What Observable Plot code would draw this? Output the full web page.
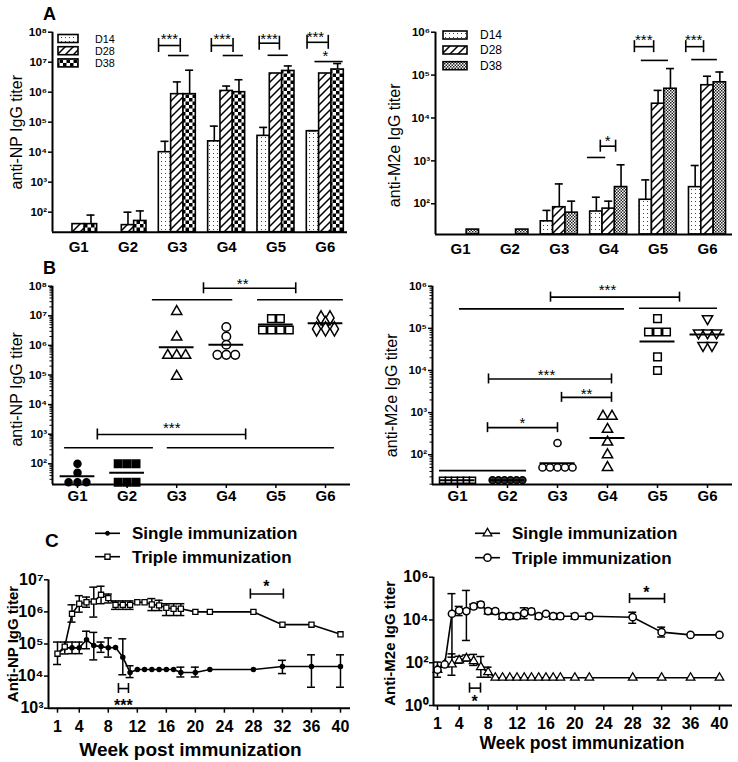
<!DOCTYPE html>
<html>
<head>
<meta charset="utf-8">
<script src="https://cdn.jsdelivr.net/npm/d3@7"></script>
<script src="https://cdn.jsdelivr.net/npm/@observablehq/plot@0.6"></script>
<style>
html,body{margin:0;padding:0;background:#fff;}
#fig{position:relative;width:738px;height:762px;overflow:hidden;background:#fff;}
#fig > svg{position:absolute;}
</style>
</head>
<body>
<div id="fig"></div>
<script>
// ================= DATA =================
const groups = ["G1", "G2", "G3", "G4", "G5", "G6"];
const days = ["D14", "D28", "D38"];

// Panel A (left): anti-NP titer, bar = mean, Up = top of SD bar
const npD14 = [null, null, 1.0e4, 2.3e4, 3.5e4, 5.0e4];
const npD14Up = [null, null, 2.3e4, 7.4e4, 6.7e4, 5.2e4];
const npD28 = [40, 37, 8.6e5, 1.1e6, 4.2e6, 4.2e6];
const npD28Up = [null, 100, 2.2e6, 1.6e6, null, null];
const npD38 = [40, 51, 8.6e5, 1.0e6, 5.1e6, 5.7e6];
const npD38Up = [80, 110, 5.4e6, 2.6e6, 7.5e6, 9.0e6];

// Panel A (right): anti-M2e titer
const m2eD14 = [null, null, 39, 66, 124, 244];
const m2eD14Up = [null, null, 70, 142, 360, 780];
const m2eD28 = [null, null, 83, 77, 2.15e4, 5.8e4];
const m2eD28Up = [null, null, 290, 115, 4.4e4, 9.4e4];
const m2eD38 = [25, 25, 62, 245, 4.8e4, 6.8e4];
const m2eD38Up = [null, null, 115, 810, 1.42e5, 1.18e5];

// Panel B: individual mice (D38) and group means
const npPoints = [
  [100, 50, 24, 24, 24],
  [100, 100, 100, 24, 24, 24],
  [1.4e7, 1.9e6, 4.6e5, 4.6e5, 4.6e5, 9.1e4],
  [4.2e6, 2.0e6, 1.05e6, 4.8e5, 4.8e5, 4.8e5],
  [8.0e6, 8.0e6, 3.3e6, 3.3e6, 3.3e6, 3.3e6],
  [8.5e6, 8.5e6, 5.5e6, 3.6e6, 3.6e6, 3.6e6]
];
const npMeans = [38, 50, 8.7e5, 1.05e6, 5.1e6, 5.6e6];
const m2ePoints = [
  [25, 25, 25, 25, 25, 25],
  [25, 25, 25, 25, 25, 25],
  [190, 50, 50, 50, 50, 50],
  [820, 820, 400, 200, 100, 50],
  [1.7e5, 8.2e4, 8.2e4, 8.2e4, 2.1e4, 1.0e4],
  [1.7e5, 7.8e4, 7.8e4, 7.8e4, 3.9e4, 3.9e4]
];
const m2eMeans = [25, 25, 63, 250, 4.9e4, 7.1e4];

// Panel C: kinetics
const weeks = [1, 2, 3, 4, 5, 6, 7, 8, 9, 10, 11, 12, 13, 14, 15, 16, 17, 18, 20, 22, 28, 32, 36, 40];
const weekTicks = [1, 4, 8, 12, 16, 20, 24, 28, 32, 36, 40];
const npSingle   = [5e4, 7.6e4, 7.6e4, 7.6e4, 1.35e5, 8.9e4, 8.3e4, 7.6e4, 7.8e4, 3.9e4, 1.3e4, 1.6e4, 1.6e4, 1.6e4, 1.6e4, 1.6e4, 1.6e4, 1.3e4, 1.3e4, 1.6e4, 1.6e4, 2e4, 2e4, 2e4];
const npSingleLo = [null, 4.9e4, 5e4, 5e4, 7.1e4, 3.2e4, 5.5e4, 3.9e4, null, 1.1e4, 9e3, null, null, null, null, null, null, 9.4e3, 9.4e3, null, null, 1.2e4, 4.5e3, 4.5e3];
const npSingleHi = [null, 1.15e5, 1.15e5, 1.15e5, 2.5e5, 2.3e5, 1.15e5, 1.55e5, null, 1.45e5, 2.1e4, null, null, null, null, null, null, 1.9e4, 1.9e4, null, null, 3.1e4, 4.6e4, 4.6e4];
const npTriple   = [5e4, 8.3e4, 8.7e5, 1.8e6, 2e6, 2.1e6, 3.4e6, 2.7e6, 1.66e6, 1.66e6, 1.66e6, 2e6, 2e6, 1.7e6, 1.6e6, 1.35e6, 1.25e6, 1.25e6, 1e6, 1e6, 1e6, 4e5, 4e5, 2e5];
const npTripleLo = [2.3e4, null, 4.8e5, 9.8e5, 1.4e6, 6.9e5, 1.8e6, 1.9e6, 1.2e6, 1.2e6, 1.2e6, null, null, 1.1e6, 1.1e6, 7.7e5, 7.7e5, 7.7e5, null, null, null, null, null, null];
const npTripleHi = [1.15e5, null, 1.66e6, 3.2e6, 2.9e6, 5.9e6, 6.3e6, 3.6e6, 2.2e6, 2.2e6, 2.2e6, null, null, 2.6e6, 2.3e6, 1.8e6, 1.8e6, 1.8e6, null, null, null, null, null, null];
const m2eSingle   = [47, 83, 83, 130, 160, 120, 62, 36, 20, 20, 20, 20, 20, 20, 20, 20, 20, 20, 20, 20, 20, 20, 20, 20];
const m2eSingleLo = [null, null, 26, 95, 120, 75, 21, 21, null, null, null, null, null, null, null, null, null, null, null, null, null, null, null, null];
const m2eSingleHi = [null, null, 260, 200, 230, 245, 195, 62, null, null, null, null, null, null, null, null, null, null, null, null, null, null, null, null];
const m2eTriple   = [47, 83, 1.95e4, 2.8e4, 2.6e4, 4.3e4, 5.3e4, 2.6e4, 2.6e4, 1.5e4, 1.5e4, 1.5e4, 2.1e4, 2.5e4, 1.5e4, 1.95e4, 1.5e4, 1.5e4, 1.5e4, 1.5e4, 1.35e4, 2.7e3, 2e3, 2e3];
const m2eTripleLo = [21, null, 182, 1.6e4, 1.1e3, 3.3e4, 3.8e4, 1.9e4, 1.9e4, 1.1e4, 1.1e4, 1.1e4, 1.15e4, 1.8e4, 1.1e4, null, 1.1e4, 1.1e4, 1.1e4, 1.1e4, 7e3, 1.6e3, null, null];
const m2eTripleHi = [107, null, 1.7e5, 4.3e4, 2.4e5, 5.5e4, 7e4, 3.3e4, 3.3e4, 2e4, 2e4, 2e4, 3.7e4, 3.4e4, 2e4, null, 2e4, 2e4, 2e4, 2e4, 2.3e4, 4.6e3, null, null];

// Significance annotations (x in group/week units, y in titer units)
const sigA1 = {
  brackets: [{x1: 2.62, x2: 3.06, y: 3.6e7}, {x1: 3.69, x2: 4.13, y: 3.6e7}, {x1: 4.66, x2: 5.07, y: 4.3e7}, {x1: 5.63, x2: 6.06, y: 4.6e7}],
  lines: [{x1: 2.82, x2: 3.24, y: 1.67e7}, {x1: 3.93, x2: 4.34, y: 1.67e7}, {x1: 4.84, x2: 5.25, y: 1.7e7}, {x1: 5.79, x2: 6.36, y: 1.05e7}],
  labels: [{x: 2.84, y: 5.7e7, t: "***"}, {x: 3.91, y: 5.7e7, t: "***"}, {x: 4.86, y: 5.7e7, t: "***"}, {x: 5.80, y: 6.7e7, t: "***"}, {x: 6.0, y: 1.55e7, t: "*"}]
};
const sigA2 = {
  brackets: [{x1: 3.83, x2: 4.14, y: 2.2e3}, {x1: 4.52, x2: 4.91, y: 4.6e5}, {x1: 5.56, x2: 5.92, y: 4.6e5}],
  lines: [{x1: 3.57, x2: 3.94, y: 1.2e3}, {x1: 4.66, x2: 5.21, y: 2.2e5}, {x1: 5.68, x2: 6.2, y: 2.3e5}],
  labels: [{x: 3.98, y: 2.9e3, t: "*"}, {x: 4.71, y: 6.5e5, t: "***"}, {x: 5.72, y: 6.5e5, t: "***"}]
};
const sigB1 = {
  brackets: [{x1: 3.54, x2: 5.40, y: 8.5e7}, {x1: 1.40, x2: 4.39, y: 9.8e2}],
  lines: [{x1: 2.51, x2: 4.13, y: 3.5e7}, {x1: 4.63, x2: 6.36, y: 3.5e7}, {x1: 0.74, x2: 2.53, y: 3.47e2}, {x1: 2.81, x2: 6.18, y: 3.47e2}],
  labels: [{x: 4.33, y: 1.15e8, t: "**"}, {x: 2.9, y: 1.55e3, t: "***"}]
};
const sigB2 = {
  brackets: [{x1: 2.86, x2: 5.44, y: 5.5e5}, {x1: 1.62, x2: 4.08, y: 6.3e3}, {x1: 3.08, x2: 4.08, y: 2.3e3}, {x1: 1.6, x2: 3.0, y: 4.4e2}],
  lines: [{x1: 1.04, x2: 4.34, y: 2.9e5}, {x1: 4.64, x2: 6.2, y: 3e5}, {x1: 0.64, x2: 2.38, y: 42}],
  labels: [{x: 4.0, y: 7.9e5, t: "***"}, {x: 2.78, y: 7.6e3, t: "***"}, {x: 3.58, y: 2.8e3, t: "**"}, {x: 2.3, y: 5.5e2, t: "*"}]
};
const sigC1 = {
  brackets: [{x1: 9.4, x2: 10.78, y: 4.1e3}, {x1: 27.58, x2: 32.13, y: 3.6e6}],
  lines: [],
  labels: [{x: 10.09, y: 1.2e3, t: "***"}, {x: 29.79, y: 6.2e6, t: "*"}]
};
const sigC2 = {
  brackets: [{x1: 5.43, x2: 6.95, y: 6.5}, {x1: 27.56, x2: 32.4, y: 1e5}],
  lines: [],
  labels: [{x: 6.12, y: 1.55, t: "*"}, {x: 29.9, y: 1.9e5, t: "*"}]
};

// ================= HELPERS =================
const FONT = "'Liberation Sans', Arial, Helvetica, sans-serif";
const fig = document.getElementById("fig");
const SUP = {"0": "⁰", "1": "¹", "2": "²", "3": "³", "4": "⁴", "5": "⁵", "6": "⁶", "7": "⁷", "8": "⁸", "9": "⁹", "-": "⁻"};
const pow10 = d => "10" + String(Math.round(Math.log10(d))).split("").map(c => SUP[c]).join("");
const minorTicks = (lo, hi) => { const t = []; for (let e = Math.floor(Math.log10(lo)); e < Math.log10(hi); e++) for (let m = 2; m <= 9; m++) { const v = m * 10 ** e; if (v > lo && v < hi) t.push(v); } return t; };

function sigMarks(s, h, fontSize, fontWeight) {
  return [
    Plot.ruleY(s.brackets, {y: "y", x1: "x1", x2: "x2", strokeWidth: 1.6}),
    Plot.ruleX(s.brackets, {x: "x1", y1: "y", y2: "y", insetTop: -h, insetBottom: -h, strokeWidth: 1.6}),
    Plot.ruleX(s.brackets, {x: "x2", y1: "y", y2: "y", insetTop: -h, insetBottom: -h, strokeWidth: 1.6}),
    Plot.ruleY(s.lines, {y: "y", x1: "x1", x2: "x2", strokeWidth: 1.6}),
    Plot.text(s.labels, {x: "x", y: "y", text: "t", fontSize, fontWeight, lineAnchor: "middle"})
  ];
}

function panel(o) {
  const [mt, mr, mb, ml] = o.margin;
  const marks = [...o.marks];
  if (o.minor) marks.push(Plot.axisY({ticks: o.minor, tickSize: 2.5, tickFormat: () => "", strokeWidth: 1, label: null}));
  marks.push(
    Plot.axisY({ticks: o.yTicks, tickFormat: pow10, tickSize: 4, tickPadding: o.yPad, fontSize: o.yFont, fontWeight: "bold", strokeWidth: 1.5, label: null}),
    Plot.axisX({ticks: o.xTicks, tickFormat: o.xFormat, tickSize: o.xTickSize, tickPadding: o.xPad, fontSize: o.xFont, fontWeight: "bold", strokeWidth: 1.5, label: null}),
    Plot.ruleX([o.xDomain[0]], {y1: o.yDomain[0], y2: o.yDomain[1], strokeWidth: 2}),
    Plot.ruleY([o.yDomain[0]], {strokeWidth: 2}),
    Plot.text([o.title], {text: d => d, frameAnchor: "left", textAnchor: "middle", lineAnchor: "middle", rotate: -90, dx: o.titleDx, dy: o.titleDy, fontSize: o.titleFont, fontWeight: o.titleWeight})
  );
  if (o.xTitle) marks.push(Plot.text([o.xTitle], {text: d => d, frameAnchor: "bottom", textAnchor: "middle", lineAnchor: "top", dx: o.xTitleDx, dy: o.xTitleDy, fontSize: o.xTitleFont, fontWeight: "bold"}));
  const svg = Plot.plot({
    width: o.width, height: o.height,
    marginTop: mt, marginRight: mr, marginBottom: mb, marginLeft: ml,
    x: {type: "linear", domain: o.xDomain},
    y: {type: "log", domain: o.yDomain},
    style: {fontFamily: FONT, color: "black", background: "transparent", overflow: "visible"},
    marks
  });
  svg.style.left = o.left + "px";
  svg.style.top = o.top + "px";
  fig.appendChild(svg);
}

// ---- Panel A: grouped bars ----
const BW = 0.25;
function barMarks(series, ups, pats, yMin) {
  const rows = [];
  series.forEach((vals, k) => vals.forEach((v, i) => { if (v != null) rows.push({g: i + 1, k, v, up: ups[k][i]}); }));
  const xc = d => d.g + (d.k - 1) * BW;
  const err = rows.filter(d => d.up != null);
  return [
    ...pats.map((p, k) => Plot.rect(rows.filter(d => d.k === k), {x1: d => xc(d) - BW / 2, x2: d => xc(d) + BW / 2, y1: yMin, y2: "v", fill: p, stroke: "black", strokeWidth: 1.6})),
    Plot.ruleX(err, {x: xc, y1: "v", y2: "up", strokeWidth: 1.6}),
    Plot.ruleY(err, {y: "up", x1: xc, x2: xc, insetLeft: -4, insetRight: -4, strokeWidth: 1.6})
  ];
}

// ---- Panel B: scatter with means ----
const triangleDown = {draw(ctx, size) { const y = -Math.sqrt(size / (Math.sqrt(3) * 3)); ctx.moveTo(0, -y * 2); ctx.lineTo(-Math.sqrt(3) * y, y); ctx.lineTo(Math.sqrt(3) * y, y); ctx.closePath(); }};
function swarm(points) {
  const out = [];
  points.forEach((vals, gi) => {
    const counts = d3.rollup(vals, v => v.length, v => v);
    const seen = new Map();
    vals.forEach(v => {
      const n = counts.get(v), j = seen.get(v) || 0;
      seen.set(v, j + 1);
      const step = n > 1 ? Math.min(0.18, 0.6 / (n - 1)) : 0;
      out.push({g: gi + 1, v, off: (j - (n - 1) / 2) * step});
    });
  });
  return out;
}
function scatterMarks(points, means, styles) {
  const pts = swarm(points);
  const mrows = means.map((v, i) => ({g: i + 1, v}));
  return [
    ...styles.map((s, i) => Plot.dot(pts.filter(d => d.g === i + 1), {x: d => d.g + d.off, y: "v", symbol: s.symbol, r: s.r, fill: s.fill, stroke: "black", strokeWidth: 1.5})),
    Plot.ruleY(mrows, {y: "v", x1: d => d.g - 0.35, x2: d => d.g + 0.35, strokeWidth: 2})
  ];
}

// ---- Panel C: kinetics ----
function kinMarks(vals, lo, hi, dotOpts) {
  const rows = weeks.map((w, i) => ({w, v: vals[i], lo: lo[i], hi: hi[i]}));
  const e = rows.filter(d => d.lo != null);
  return [
    Plot.ruleX(e, {x: "w", y1: "lo", y2: "hi", strokeWidth: 1.5}),
    Plot.ruleY(e, {y: "hi", x1: "w", x2: "w", insetLeft: -4, insetRight: -4, strokeWidth: 1.5}),
    Plot.ruleY(e, {y: "lo", x1: "w", x2: "w", insetLeft: -4, insetRight: -4, strokeWidth: 1.5}),
    Plot.line(rows, {x: "w", y: "v", strokeWidth: 1.6}),
    Plot.dot(rows, {x: "w", y: "v", stroke: "black", ...dotOpts})
  ];
}

// ================= PANELS =================
const gFormat = i => groups[i - 1];

// A left
panel({
  left: 0, top: 0, width: 369, height: 258, margin: [31.7, 22, 26.3, 52],
  xDomain: [0.47, 6.45], yDomain: [21.5, 1e8],
  yTicks: [1e2, 1e3, 1e4, 1e5, 1e6, 1e7, 1e8], yFont: 11.5, yPad: 1.5,
  xTicks: [1, 2, 3, 4, 5, 6], xFormat: gFormat, xTickSize: 0, xPad: 9, xFont: 15,
  title: "anti-NP IgG titer", titleFont: 16, titleDx: -36, titleDy: 0, titleWeight: "normal",
  marks: [
    ...barMarks([npD14, npD28, npD38], [npD14Up, npD28Up, npD38Up], ["url(#pD14)", "url(#pD28)", "url(#pD38a)"], 21.5),
    ...sigMarks(sigA1, 7, 15, "normal")
  ]
});

// A right
panel({
  left: 370, top: 0, width: 368, height: 258, margin: [31.7, 6, 24, 65],
  xDomain: [0.494, 6.506], yDomain: [19.2, 1e6],
  yTicks: [1e2, 1e3, 1e4, 1e5, 1e6], yFont: 11.5, yPad: 1.5,
  xTicks: [1, 2, 3, 4, 5, 6], xFormat: gFormat, xTickSize: 0, xPad: 9, xFont: 15,
  title: "anti-M2e IgG titer", titleFont: 16, titleDx: -41, titleDy: 12, titleWeight: "normal",
  marks: [
    ...barMarks([m2eD14, m2eD28, m2eD38], [m2eD14Up, m2eD28Up, m2eD38Up], ["url(#pD14)", "url(#pD28)", "url(#pD38b)"], 19.2),
    ...sigMarks(sigA2, 6, 15, "normal")
  ]
});

// B left
panel({
  left: 0, top: 258, width: 369, height: 250, margin: [27.7, 19, 24, 52],
  xDomain: [0.496, 6.504], yDomain: [20, 1e8],
  yTicks: [1e2, 1e3, 1e4, 1e5, 1e6, 1e7, 1e8], minor: minorTicks(20, 1e8), yFont: 11.5, yPad: 1.5,
  xTicks: [1, 2, 3, 4, 5, 6], xFormat: gFormat, xTickSize: 4, xPad: 2, xFont: 15,
  title: "anti-NP IgG titer", titleFont: 16, titleDx: -36, titleDy: 4, titleWeight: "normal",
  marks: [
    ...scatterMarks(npPoints, npMeans, [
      {symbol: "circle", r: 3.5, fill: "black"},
      {symbol: "square", r: 4.2, fill: "black"},
      {symbol: "triangle", r: 3.8, fill: "white"},
      {symbol: "circle", r: 4.3, fill: "white"},
      {symbol: "square", r: 4.3, fill: "white"},
      {symbol: "diamond", r: 4.3, fill: "white"}
    ]),
    ...sigMarks(sigB1, 5.5, 15, "normal")
  ]
});

// B right
panel({
  left: 370, top: 258, width: 368, height: 250, margin: [27.7, 6, 24, 62],
  xDomain: [0.5, 6.5], yDomain: [19.7, 1e6],
  yTicks: [1e2, 1e3, 1e4, 1e5, 1e6], minor: minorTicks(19.7, 1e6), yFont: 11.5, yPad: 1.5,
  xTicks: [1, 2, 3, 4, 5, 6], xFormat: gFormat, xTickSize: 4, xPad: 2, xFont: 15,
  title: "anti-M2e IgG titer", titleFont: 16, titleDx: -41, titleDy: 10, titleWeight: "normal",
  marks: [
    ...scatterMarks(m2ePoints, m2eMeans, [
      {symbol: "square", r: 3.4, fill: "white"},
      {symbol: "circle", r: 3.4, fill: "#333"},
      {symbol: "circle", r: 3.6, fill: "white"},
      {symbol: "triangle", r: 3.8, fill: "white"},
      {symbol: "square", r: 4.3, fill: "white"},
      {symbol: triangleDown, r: 3.8, fill: "white"}
    ]),
    ...sigMarks(sigB2, 5, 15, "normal")
  ]
});

// C left
panel({
  left: 0, top: 508, width: 369, height: 254, margin: [71.3, 19, 54.3, 48],
  xDomain: [-0.24, 41.38], yDomain: [1e3, 1e7],
  yTicks: [1e3, 1e4, 1e5, 1e6, 1e7], yFont: 16, yPad: 1,
  xTicks: weekTicks, xFormat: d => d, xTickSize: 5, xPad: 7, xFont: 16,
  title: "Anti-NP IgG titer", titleFont: 15, titleDx: -35, titleDy: 0, titleWeight: "bold",
  xTitle: "Week post immunization", xTitleDx: -9, xTitleDy: 34, xTitleFont: 19,
  marks: [
    ...kinMarks(npSingle, npSingleLo, npSingleHi, {r: 2, fill: "black"}),
    ...kinMarks(npTriple, npTripleLo, npTripleHi, {symbol: "square", r: 2.9, fill: "white", strokeWidth: 1.3}),
    ...sigMarks(sigC1, 5, 16, "bold")
  ]
});

// C right
panel({
  left: 370, top: 508, width: 368, height: 254, margin: [68.7, 6, 57, 63],
  xDomain: [0.45, 41.8], yDomain: [1, 1e6],
  yTicks: [1, 1e2, 1e4, 1e6], yFont: 16, yPad: 1,
  xTicks: weekTicks, xFormat: d => d, xTickSize: 5, xPad: 7, xFont: 16,
  title: "Anti-M2e IgG titer", titleFont: 15, titleDx: -43, titleDy: 2, titleWeight: "bold",
  xTitle: "Week post immunization", xTitleDx: -1, xTitleDy: 31, xTitleFont: 17.5,
  marks: [
    ...kinMarks(m2eSingle, m2eSingleLo, m2eSingleHi, {symbol: "triangle", r: 3.2, fill: "white", strokeWidth: 1.3}),
    ...kinMarks(m2eTriple, m2eTripleLo, m2eTripleHi, {symbol: "circle", r: 3.6, fill: "white", strokeWidth: 1.5}),
    ...sigMarks(sigC2, 5, 16, "bold")
  ]
});

// ================= OVERLAY: patterns, panel letters, legends =================
const ov = d3.create("svg").attr("width", 738).attr("height", 762)
  .style("left", "0px").style("top", "0px").style("font-family", FONT).style("pointer-events", "none");
const defs = ov.append("defs");
const p14 = defs.append("pattern").attr("id", "pD14").attr("width", 4).attr("height", 4).attr("patternUnits", "userSpaceOnUse");
p14.append("rect").attr("width", 4).attr("height", 4).attr("fill", "white");
p14.append("rect").attr("x", 1).attr("y", 1).attr("width", 1).attr("height", 1).attr("fill", "#444");
const p28 = defs.append("pattern").attr("id", "pD28").attr("width", 8).attr("height", 8).attr("patternUnits", "userSpaceOnUse");
p28.append("rect").attr("width", 8).attr("height", 8).attr("fill", "white");
p28.append("path").attr("d", "M-1,9 L9,-1 M-1,1 L1,-1 M7,9 L9,7").attr("stroke", "black").attr("stroke-width", 1.5);
const p38a = defs.append("pattern").attr("id", "pD38a").attr("width", 7).attr("height", 7).attr("patternUnits", "userSpaceOnUse");
p38a.append("rect").attr("width", 7).attr("height", 7).attr("fill", "white");
p38a.append("rect").attr("width", 3.5).attr("height", 3.5).attr("fill", "black");
p38a.append("rect").attr("x", 3.5).attr("y", 3.5).attr("width", 3.5).attr("height", 3.5).attr("fill", "black");
const p38b = defs.append("pattern").attr("id", "pD38b").attr("width", 3).attr("height", 3).attr("patternUnits", "userSpaceOnUse");
p38b.append("rect").attr("width", 3).attr("height", 3).attr("fill", "white");
p38b.append("rect").attr("width", 1.5).attr("height", 1.5).attr("fill", "#222");
p38b.append("rect").attr("x", 1.5).attr("y", 1.5).attr("width", 1.5).attr("height", 1.5).attr("fill", "#222");

// panel letters
[["A", 43, 20, 18], ["B", 43, 274, 18], ["C", 45, 547, 19]].forEach(([t, x, y, s]) =>
  ov.append("text").attr("x", x).attr("y", y).attr("font-size", s).attr("font-weight", "bold").text(t));

// A legends
function patLegend(x, w, ys, tx, pats, fs) {
  days.forEach((d, k) => {
    ov.append("rect").attr("x", x).attr("y", ys[k] - 4).attr("width", w).attr("height", 8)
      .attr("fill", pats[k]).attr("stroke", "black").attr("stroke-width", 1.6);
    ov.append("text").attr("x", tx).attr("y", ys[k] + 4).attr("font-size", fs).text(d);
  });
}
patLegend(58, 20, [38.5, 50.7, 62.9], 95, ["url(#pD14)", "url(#pD28)", "url(#pD38a)"], 10.8);
patLegend(443, 24, [35, 50, 65.7], 480, ["url(#pD14)", "url(#pD28)", "url(#pD38b)"], 12);

// C legends
const series = ["Single immunization", "Triple immunization"];
function lineLegend(x1, x2, ys, tx, syms) {
  series.forEach((s, k) => {
    ov.append("line").attr("x1", x1).attr("x2", x2).attr("y1", ys[k]).attr("y2", ys[k]).attr("stroke", "black").attr("stroke-width", 1.6);
    const sy = syms[k];
    ov.append("path").attr("d", d3.symbol().type(sy.type).size(Math.PI * sy.r * sy.r)())
      .attr("transform", `translate(${(x1 + x2) / 2},${ys[k]})`)
      .attr("fill", sy.fill).attr("stroke", "black").attr("stroke-width", sy.sw);
    ov.append("text").attr("x", tx).attr("y", ys[k] + 6).attr("font-size", 17).attr("font-weight", "bold").text(s);
  });
}
lineLegend(95, 120, [533.3, 556.7], 132, [{type: d3.symbolCircle, r: 2, fill: "black", sw: 1}, {type: d3.symbolSquare, r: 2.9, fill: "white", sw: 1.3}]);
lineLegend(475, 500, [533.3, 557.7], 512, [{type: d3.symbolTriangle, r: 3.2, fill: "white", sw: 1.3}, {type: d3.symbolCircle, r: 3.6, fill: "white", sw: 1.5}]);

fig.appendChild(ov.node());
</script>
</body>
</html>
